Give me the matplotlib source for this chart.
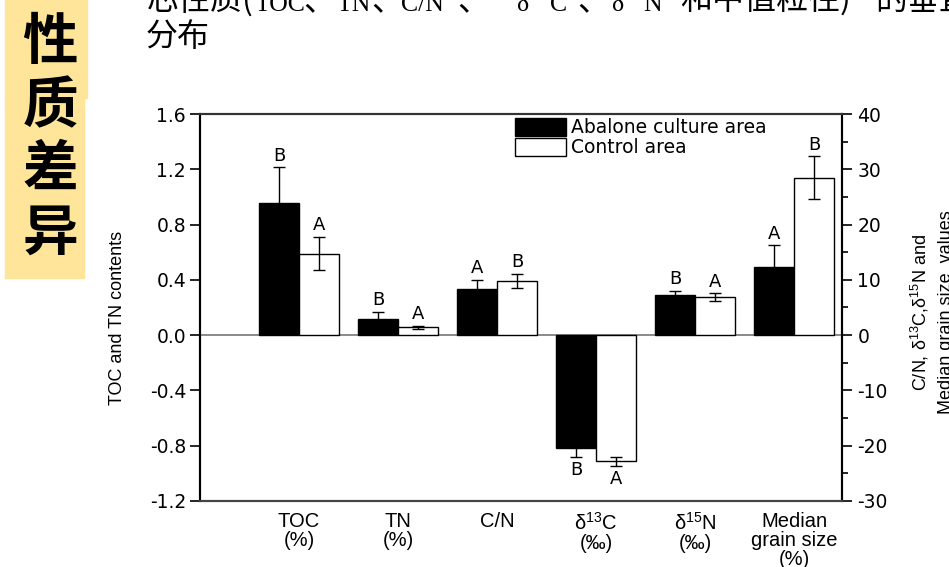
import matplotlib
matplotlib.use("Agg")
import matplotlib.pyplot as plt
from matplotlib.patches import Rectangle, Patch
import numpy as np

plt.rcParams['mathtext.fontset'] = 'custom'
plt.rcParams['mathtext.rm'] = 'Liberation Sans'
plt.rcParams['mathtext.it'] = 'Liberation Sans:italic'

# data
categories = ["TOC\n(%)", "TN\n(%)", "C/N", "δ$^{13}$C\n(‰)", "δ$^{15}$N\n(‰)",
              "Median\ngrain size\n(%)"]
# TOC and TN on the left axis
left_abalone = [0.953, 0.118]
left_abalone_err = [0.26, 0.05]
left_control = [0.589, 0.056]
left_control_err = [0.12, 0.01]
# C/N, d13C, d15N, median grain size on the right axis
right_abalone = [8.3, -20.5, 7.25, 12.25]
right_abalone_err = [1.7, 1.5, 0.7, 4.0]
right_control = [9.8, -22.8, 6.9, 28.5]
right_control_err = [1.3, 0.8, 0.67, 3.85]
letters_abalone = ["B", "B", "A", "B", "B", "A"]
letters_control = ["A", "A", "B", "A", "A", "B"]

W, H = 949, 567
fig = plt.figure(figsize=(W / 100, H / 100), dpi=100)
fig.patch.set_facecolor('white')

# slide decoration: yellow box with vertical title
fig.patches.append(Rectangle((5 / W, 1 - 98 / H), 82 / W, 98 / H,
                             transform=fig.transFigure, color='#FFE599', zorder=0))
fig.patches.append(Rectangle((5 / W, 1 - 278 / H), 79 / W, 181 / H,
                             transform=fig.transFigure, color='#FFE599', zorder=0))
for ch, yc in zip("性质差异", [43, 107, 170, 234]):
    fig.text(50 / W, 1 - yc / H, ch, fontsize=40, fontweight='bold',
             family=['Noto Sans CJK SC'], ha='center', va='center')

# slide heading (first line is justified and cut at the top of the picture)
cjk = ['Noto Sans CJK SC']
serif = ['Liberation Serif', 'DejaVu Serif']
heading = [("芯性质(", 147, cjk), ("TOC", 255, serif), ("、", 303, cjk),
           ("TN", 337, serif), ("、", 371, cjk), ("C/N", 401, serif),
           ("、", 457, cjk), ("δ", 517, serif), ("C", 550, serif),
           ("、", 577, cjk), ("δ", 612, serif), ("N", 643, serif),
           ("和中值粒径)", 680, cjk), ("的垂直", 875, cjk)]
for s, xs, fam in heading:
    if fam is cjk:
        fig.text(xs / W, 1 - 10 / H, s, fontsize=23, family=fam,
                 va='baseline', ha='left')
    else:
        fig.text(xs / W, 1 - 11 / H, s, fontsize=18.5, family=fam,
                 va='baseline', ha='left')
for s, xs in [("13", 530), ("15", 625)]:
    fig.text(xs / W, 1 + 3 / H, s, fontsize=11, family=serif, va='baseline', ha='left')
fig.text(146 / W, 1 - 46 / H, "分布", fontsize=23, family=cjk, va='baseline', ha='left')

# chart
ax = fig.add_axes([200 / W, 1 - 501 / H, 642 / W, 387 / H])
ax2 = ax.twinx()

w = 0.404
x = np.arange(1, 7)
ekw = dict(ecolor='black', elinewidth=1.0, capsize=4, capthick=1.0)

ax.bar(x[:2] - w / 2, left_abalone, w, color='black', edgecolor='black',
       linewidth=1.0, yerr=left_abalone_err, error_kw=ekw, zorder=3)
ax.bar(x[:2] + w / 2, left_control, w, color='white', edgecolor='black',
       linewidth=1.0, yerr=left_control_err, error_kw=ekw, zorder=3)
ax2.bar(x[2:] - w / 2, right_abalone, w, color='black', edgecolor='black',
        linewidth=1.0, yerr=right_abalone_err, error_kw=ekw, zorder=3)
ax2.bar(x[2:] + w / 2, right_control, w, color='white', edgecolor='black',
        linewidth=1.0, yerr=right_control_err, error_kw=ekw, zorder=3)

ax.set_xlim(0, 6.485)
ax.set_ylim(-1.2, 1.6)
ax2.set_ylim(-30, 40)
ax.axhline(0, color='#777777', lw=1.2, zorder=1)

# significance letters
vals_a = [v * 25 for v in left_abalone] + right_abalone
errs_a = [e * 25 for e in left_abalone_err] + right_abalone_err
vals_c = [v * 25 for v in left_control] + right_control
errs_c = [e * 25 for e in left_control_err] + right_control_err
lfont = dict(fontsize=13, family='DejaVu Sans', ha='center')
for i in range(6):
    for xx, v, e, s in [(x[i] - w / 2, vals_a[i], errs_a[i], letters_abalone[i]),
                        (x[i] + w / 2, vals_c[i], errs_c[i], letters_control[i])]:
        if v >= 0:
            ax2.annotate(s, (xx, v + e), xytext=(0, 2), textcoords='offset points',
                         va='bottom', **lfont)
        else:
            ax2.annotate(s, (xx, v - e), xytext=(0, -3), textcoords='offset points',
                         va='top', **lfont)

# ticks
num_font = dict(family='DejaVu Sans', size=13.5)
left_ticks = [1.6, 1.2, 0.8, 0.4, 0.0, -0.4, -0.8, -1.2]
ax.set_yticks(left_ticks)
ax.set_yticklabels([f"{t:.1f}" for t in left_ticks], fontdict=num_font)
right_ticks = [40, 30, 20, 10, 0, -10, -20, -30]
ax2.set_yticks(right_ticks)
ax2.set_yticklabels([str(t) for t in right_ticks], fontdict=num_font)
ax2.set_yticks(np.arange(-25, 40, 10), minor=True)
ax.tick_params(axis='y', direction='out', length=7, width=1.2, pad=3)
ax2.tick_params(axis='y', which='major', direction='out', length=7, width=1.2, pad=4)
ax2.tick_params(axis='y', which='minor', direction='out', length=4, width=1.2)

ax.set_xticks(x)
ax.set_xticklabels(categories, family=['Liberation Sans', 'DejaVu Sans'],
                   fontsize=14.5, linespacing=1.0)
ax.tick_params(axis='x', length=0, pad=8)

for a in (ax, ax2):
    for side in ('left', 'right', 'top', 'bottom'):
        a.spines[side].set_linewidth(1.5)
    a.spines['top'].set_color('#333333')
    a.spines['bottom'].set_color('#444444')

narrow = ['Liberation Sans Narrow', 'Liberation Sans']
fig.text(117 / W, 1 - 318 / H, "TOC and TN contents", rotation=90, fontsize=13,
         family=narrow, ha='center', va='center')
fig.text(932 / W, 1 - 312 / H, "C/N, δ$^{13}$C,δ$^{15}$N and\nMedian grain size  values",
         rotation=90, fontsize=13, family=narrow, ha='center', va='center',
         multialignment='center', linespacing=1.5)

handles = [Patch(facecolor='black', edgecolor='black', lw=1.0),
           Patch(facecolor='white', edgecolor='black', lw=1.0)]
ax2.legend(handles, ["Abalone culture area", "Control area"], loc='upper left',
           bbox_to_anchor=(0.4907, 0.99), frameon=False, borderpad=0,
           borderaxespad=0, handlelength=2.7, handleheight=1.1, labelspacing=0.02,
           handletextpad=0.3, prop=dict(family='DejaVu Sans', size=13.5))

fig.savefig("out.png", dpi=100)
